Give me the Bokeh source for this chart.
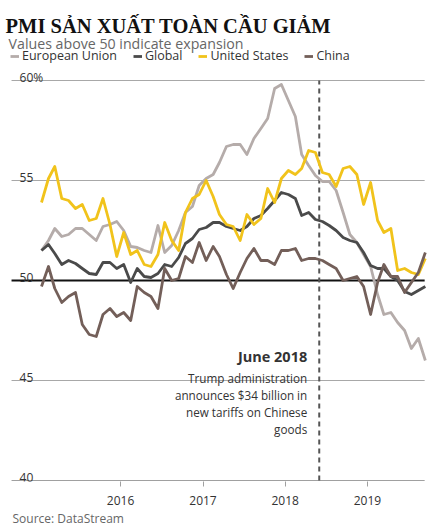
import pandas as pd
from bokeh.plotting import figure
from bokeh.models import (Range1d, FixedTicker, DatetimeTickFormatter, Label,
                          Legend, LegendItem, Title)
from bokeh.core.properties import value
from bokeh.embed import file_html
from bokeh.resources import INLINE

# ---- data -------------------------------------------------------------
months = pd.date_range("2015-01-01", "2019-09-01", freq="MS") + pd.Timedelta(days=14)

eu = [51.5, 52.0, 52.6, 52.2, 52.3, 52.6, 52.6, 52.3, 52.0, 52.7, 52.8, 52.95,
      52.5, 51.7, 51.65, 51.5, 51.4, 52.75, 51.4, 51.75, 52.5, 53.4, 53.7, 54.75,
      55.1, 55.3, 55.9, 56.7, 56.8, 56.8, 56.3, 57.1, 57.6, 58.1, 59.6, 59.8,
      59.0, 58.2, 56.3, 55.75, 55.25, 54.95, 54.95, 54.5, 53.4, 52.3, 51.9, 51.3,
      50.7, 49.3, 48.3, 48.4, 47.9, 47.5, 46.6, 47.1, 46.0]
glob = [51.5, 51.8, 51.35, 50.8, 51.0, 50.85, 50.6, 50.35, 50.3, 50.9, 50.9, 50.6,
        50.8, 49.9, 50.6, 50.2, 50.15, 50.35, 50.8, 50.7, 51.15, 51.85, 52.1, 52.55,
        52.65, 52.9, 52.9, 52.7, 52.6, 52.5, 52.7, 53.1, 53.25, 53.6, 54.0, 54.4,
        54.3, 54.1, 53.25, 53.4, 53.05, 52.95, 52.75, 52.5, 52.15, 52.0, 51.9, 51.4,
        50.75, 50.6, 50.6, 50.2, 50.0, 49.45, 49.3, 49.5, 49.7]
us = [53.9, 55.1, 55.7, 54.1, 54.0, 53.6, 53.8, 53.0, 53.1, 54.1, 52.8, 51.2,
      52.4, 51.3, 51.5, 50.8, 50.7, 51.3, 52.9, 52.0, 51.5, 53.4, 54.1, 54.3,
      55.0, 54.2, 53.3, 52.8, 52.7, 52.0, 53.3, 52.8, 53.1, 54.6, 53.9, 55.1,
      55.5, 55.3, 55.6, 56.5, 56.4, 55.4, 55.3, 54.7, 55.6, 55.7, 55.3, 53.8,
      54.9, 53.0, 52.4, 52.6, 50.5, 50.6, 50.4, 50.3, 51.1]
china = [49.7, 50.7, 49.6, 48.9, 49.2, 49.4, 47.8, 47.3, 47.2, 48.3, 48.6, 48.2,
         48.4, 48.0, 49.7, 49.4, 49.2, 48.6, 50.6, 50.0, 50.1, 51.2, 50.9, 51.9,
         51.0, 51.7, 51.2, 50.3, 49.6, 50.4, 51.1, 51.6, 51.0, 51.0, 50.8, 51.5,
         51.5, 51.6, 51.0, 51.1, 51.1, 51.0, 50.8, 50.6, 50.0, 50.1, 50.2, 49.7,
         48.3, 49.9, 50.8, 50.2, 50.2, 49.4, 49.9, 50.4, 51.4]

series_names = ["European Union", "Global", "United States", "China"]
series_colors = ["#b5acaa", "#4a4a4a", "#f1c31b", "#735f59"]

y_ticks = [40, 45, 50, 55, 60]
y_tick_labels = ["40", "45", "50", "55", "60%"]
grid_levels = [45, 55, 60]
x_tick_years = ["2016", "2017", "2018", "2019"]

event_date = pd.Timestamp("2018-06-01")
event_title = "June 2018"
event_lines = ["Trump administration", "announces $34 billion in",
               "new tariffs on Chinese", "goods"]

title_text = "PMI SẢN XUẤT TOÀN CẦU GIẢM"
subtitle_text = "Values above 50 indicate expansion"
source_text = "Source: DataStream"

# ---- figure -----------------------------------------------------------
x_start = pd.Timestamp("2014-07-17")
x_end = pd.Timestamp("2019-11-08")
grid_x0 = pd.Timestamp("2014-09-04")
grid_x1 = pd.Timestamp("2019-09-12")
FONT = "Open Sans"

p = figure(width=437, height=531, x_axis_type="datetime", y_axis_location=None,
           x_range=Range1d(x_start, x_end), y_range=Range1d(39.95, 64),
           output_backend="svg", toolbar_location=None, title=None,
           min_border_left=0, min_border_right=0, min_border_top=0, min_border_bottom=50)
p.outline_line_color = None
p.background_fill_color = "white"
p.border_fill_color = "white"
for g in p.grid:
    g.visible = False

# horizontal grid lines and baseline
p.segment(x0=[grid_x0] * len(grid_levels), y0=grid_levels,
          x1=[grid_x1] * len(grid_levels), y1=grid_levels,
          line_color="#a8a8a8", line_width=1)
p.segment(x0=[grid_x0], y0=[y_ticks[0]], x1=[grid_x1], y1=[y_ticks[0]],
          line_color="#a0a0a0", line_width=1)
p.segment(x0=[grid_x0], y0=[50], x1=[grid_x1], y1=[50],
          line_color="#111111", line_width=2)

# x axis
ax = p.xaxis[0]
ax.ticker = FixedTicker(ticks=[pd.Timestamp(f"{y}-01-01").value // 10**6 for y in x_tick_years])
ax.formatter = DatetimeTickFormatter(years="%Y", months="%Y", days="%Y", hours="%Y",
                                     hourmin="%Y", minutes="%Y", minsec="%Y",
                                     seconds="%Y", milliseconds="%Y", microseconds="%Y")
ax.axis_line_color = None
ax.major_tick_line_color = "#a0a0a0"
ax.major_tick_out = 5
ax.major_tick_in = 0
ax.minor_tick_line_color = None
ax.major_label_standoff = 9
ax.major_label_text_font = FONT
ax.major_label_text_font_size = "12px"
ax.major_label_text_color = "#333333"

# y labels inside the plot
p.text(x=[grid_x0] * len(y_ticks), y=y_ticks, text=y_tick_labels, x_offset=8, y_offset=-3,
       text_baseline="alphabetic", text_align="left", text_font=value(FONT),
       text_font_size="12px", text_color="#333333")

# event marker
p.segment(x0=[event_date], y0=[y_ticks[0]], x1=[event_date], y1=[y_ticks[-1]],
          line_color="#555555", line_width=2, line_dash="5 4")
p.text(x=[event_date], y=[46.2], text=[event_title], x_offset=-12,
       text_align="right", text_baseline="alphabetic", text_font=value(FONT),
       text_font_style="bold", text_font_size="14.5px", text_color="#333333")
p.text(x=[event_date] * 4, y=[45.15, 44.3, 43.45, 42.6], text=event_lines, x_offset=-12,
       text_align="right", text_baseline="alphabetic", text_font=value(FONT),
       text_font_size="11.7px", text_color="#333333")

# series
renderers = []
for vals, col in zip([eu, glob, us, china], series_colors):
    r = p.line(x=months, y=vals, line_color=col, line_width=2.8, line_join="round")
    renderers.append(r)

legend = Legend(items=[LegendItem(label=n, renderers=[r]) for n, r in zip(series_names, renderers)],
                orientation="horizontal", location=(10, 417), glyph_width=9, glyph_height=12,
                label_standoff=3, spacing=16, padding=0, margin=0,
                border_line_color=None, background_fill_alpha=0,
                label_text_font=FONT, label_text_font_size="12.5px",
                label_text_color="#333333", label_height=12)
p.add_layout(legend)

# titles
p.add_layout(Label(x=grid_x0, y=62.75, x_offset=-6, text=title_text,
                   text_font="Liberation Serif", text_font_style="bold",
                   text_font_size="20.5px", text_baseline="alphabetic", text_color="#111111"))
p.add_layout(Label(x=grid_x0, y=61.85, x_offset=-3, text=subtitle_text,
                   text_font=FONT, text_font_size="14.2px", text_baseline="alphabetic",
                   text_color="#666666"))

# source below the axis
p.add_layout(Title(text=source_text, align="left", offset=12, standoff=0,
                   vertical_align="bottom", text_font=FONT, text_font_size="12px",
                   text_font_style="normal", text_color="#666666"), "below")

open("out.html", "w").write(file_html(p, INLINE))
